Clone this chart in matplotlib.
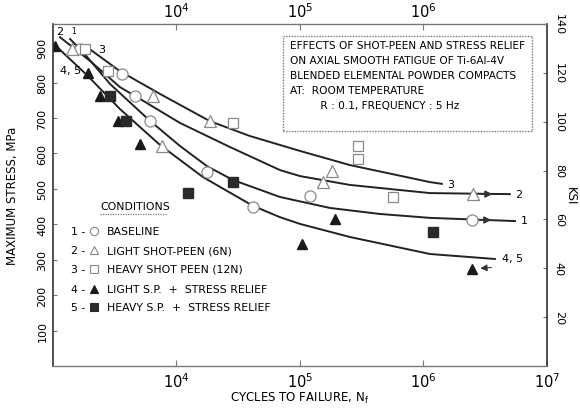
import matplotlib
matplotlib.use("Agg")
import matplotlib.pyplot as plt
from matplotlib.patches import Rectangle

plt.rcParams['font.family'] = ['DejaVu Sans']

# fitted curves (cycles, MPa)
c1_n = [1374, 1750, 2897, 6095, 10670, 17660, 28640, 68870, 175000, 444600, 1.13e6, 5.51e6]
c1_s = [923, 886, 796, 692, 621, 564, 525, 477, 446, 429, 418, 409]
c2_n = [1140, 1995, 3490, 4786, 10670, 27100, 68870, 100000, 254000, 1.13e6, 5.01e6]
c2_s = [928, 861, 787, 759, 686, 618, 553, 536, 511, 488, 485]
c3_n = [1884, 3490, 7345, 18660, 39360, 100000, 254000, 1.13e6, 1.41e6]
c3_s = [900, 832, 768, 691, 649, 607, 567, 519, 514]
c45_n = [1058, 1884, 3490, 7345, 16410, 41590, 68870, 100000, 254000, 1.13e6, 3.79e6]
c45_s = [903, 821, 725, 624, 533, 452, 420, 401, 364, 316, 302]

# test points
base_n = [1650, 3600, 4600, 6100, 17700, 41600, 120000, 2.47e6]
base_s = [895, 824, 762, 692, 547, 449, 480, 412]
light_n = [1425, 6450, 7640, 18700, 153000, 182000, 2.52e6]
light_s = [895, 762, 621, 691, 519, 550, 485]
heavy_n = [1815, 2790, 28600, 295000, 295000, 566000]
heavy_s = [895, 832, 686, 621, 584, 477]
lsr_n = [1040, 1920, 2400, 3360, 5060, 104000, 192000, 2.47e6]
lsr_s = [903, 827, 762, 691, 626, 344, 415, 274]
hsr_n = [2900, 3900, 12400, 28600, 1.19e6]
hsr_s = [762, 691, 488, 519, 378]

ksi_ticks = [20, 40, 60, 80, 100, 120, 140]
mpa_ticks = [100, 200, 300, 400, 500, 600, 700, 800, 900]

fig = plt.figure(figsize=(5.8, 4.1), dpi=100)
ax = fig.add_axes([0.0914, 0.105, 0.8516, 0.834])
ax.set_xscale('log')
ax.set_xlim(1e3, 1e7)
ax.set_ylim(0, 140 * 6.895)

lw = 1.4
ax.plot(c1_n, c1_s, color='#222222', lw=lw)
ax.plot(c2_n, c2_s, color='#222222', lw=lw)
ax.plot(c3_n, c3_s, color='#222222', lw=lw)
ax.plot(c45_n, c45_s, color='#222222', lw=lw)

oe = '#8a8a8a'
ax.plot(base_n, base_s, 'o', ms=8, mfc='white', mec=oe, mew=0.9, ls='none')
ax.plot(light_n, light_s, '^', ms=8.5, mfc='white', mec=oe, mew=0.9, ls='none')
ax.plot(heavy_n, heavy_s, 's', ms=7, mfc='white', mec=oe, mew=0.9, ls='none')
ax.plot(lsr_n, lsr_s, '^', ms=7, color='#1a1a1a', ls='none')
ax.plot(hsr_n, hsr_s, 's', ms=6.5, color='#2a2a2a', ls='none')

# runout arrows
ax.annotate('', xy=(base_n[-1], base_s[-1]), xytext=(14, 0), textcoords='offset points',
            arrowprops=dict(arrowstyle='<|-', color='#333333', lw=1.2, shrinkA=0, shrinkB=6))
ax.annotate('', xy=(light_n[-1], light_s[-1]), xytext=(14, 0), textcoords='offset points',
            arrowprops=dict(arrowstyle='<|-', color='#333333', lw=1.2, shrinkA=0, shrinkB=6))
ax.annotate('', xy=(lsr_n[-1], lsr_s[-1]), xytext=(14, 1), textcoords='offset points',
            arrowprops=dict(arrowstyle='-|>', color='#333333', lw=0.8, shrinkA=0, shrinkB=6))

# curve labels
fs = 8
ax.annotate('3', xy=(c3_n[-1], c3_s[-1]), xytext=(4, 0), textcoords='offset points', va='center', fontsize=fs)
ax.annotate('2', xy=(c2_n[-1], c2_s[-1]), xytext=(4, 0), textcoords='offset points', va='center', fontsize=fs)
ax.annotate('1', xy=(c1_n[-1], c1_s[-1]), xytext=(4, 1), textcoords='offset points', va='center', fontsize=fs)
ax.annotate('4, 5', xy=(c45_n[-1], c45_s[-1]), xytext=(5, 1), textcoords='offset points', va='center', fontsize=fs)
ax.annotate('2', xy=(c2_n[0], c2_s[0]), xytext=(-3, 1), textcoords='offset points', va='bottom', fontsize=fs)
ax.annotate('1', xy=(c1_n[0], c1_s[0]), xytext=(1, 3), textcoords='offset points', va='bottom', fontsize=5.5)
ax.annotate('3', xy=(c3_n[0], c3_s[0]), xytext=(8, -1), textcoords='offset points', va='center', fontsize=fs)
ax.annotate('4, 5', xy=(c45_n[0], c45_s[0]), xytext=(3, -17), textcoords='offset points', va='center', fontsize=fs)

# axes styling
for side in ['left', 'right']:
    ax.spines[side].set_color('#333333')
    ax.spines[side].set_linewidth(1.2)
for side in ['top', 'bottom']:
    ax.spines[side].set_color('#777777')
    ax.spines[side].set_linestyle((0, (1, 1)))
    ax.spines[side].set_linewidth(1.0)

ax.set_xticks([1e4, 1e5, 1e6, 1e7])
ax.set_xticklabels([r'$\mathregular{10^4}$', r'$\mathregular{10^5}$', r'$\mathregular{10^6}$', r'$\mathregular{10^7}$'])
ax.xaxis.set_minor_locator(matplotlib.ticker.NullLocator())
ax.tick_params(axis='x', direction='in', length=4, labelsize=10.5, pad=4, color='#777777')
ax.set_yticks(mpa_ticks)
ax.set_yticklabels([str(v) for v in mpa_ticks], rotation=90, va='center')
ax.tick_params(axis='y', direction='in', length=3, labelsize=8, pad=4, color='#777777')

top = ax.secondary_xaxis('top')
top.set_xticks([1e4, 1e5, 1e6])
top.set_xticklabels([r'$\mathregular{10^4}$', r'$\mathregular{10^5}$', r'$\mathregular{10^6}$'])
top.xaxis.set_minor_locator(matplotlib.ticker.NullLocator())
top.tick_params(direction='in', length=4, labelsize=10.5, pad=3, color='#777777')
top.spines['top'].set_visible(False)

right = ax.secondary_yaxis('right', functions=(lambda m: m / 6.895, lambda k: k * 6.895))
right.set_yticks(ksi_ticks)
right.set_yticklabels([str(v) for v in ksi_ticks], rotation=-90, va='center')
right.tick_params(direction='in', length=3, labelsize=8, pad=5, color='#777777')
right.spines['right'].set_visible(False)
right.set_ylabel('KSI', rotation=-90, fontsize=8.5, labelpad=9)

ax.set_xlabel(r'CYCLES TO FAILURE, N$_\mathregular{f}$', fontsize=8.5, labelpad=0)
ax.set_ylabel('MAXIMUM STRESS, MPa', fontsize=8.5, labelpad=13)

# title box
ax.add_patch(Rectangle((0.466, 0.687), 0.504, 0.278, transform=ax.transAxes, fill=False,
                       ec='#777777', lw=1.0, ls=(0, (1, 1))))
ax.text(0.479, 0.952,
        'EFFECTS OF SHOT-PEEN AND STRESS RELIEF\n'
        'ON AXIAL SMOOTH FATIGUE OF Ti-6Al-4V\n'
        'BLENDED ELEMENTAL POWDER COMPACTS\n'
        'AT:  ROOM TEMPERATURE\n'
        '         R : 0.1, FREQUENCY : 5 Hz',
        transform=ax.transAxes, va='top', ha='left', fontsize=7.6, linespacing=1.6)

# conditions key
ax.text(0.095, 0.468, 'CONDITIONS', transform=ax.transAxes, fontsize=7.8, va='center')
ax.plot([0.095, 0.228], [0.445, 0.445], transform=ax.transAxes, color='#777777', lw=0.9, ls=(0, (1, 1)))
keys = [('1', 'o', 'white', 'BASELINE'),
        ('2', '^', 'white', 'LIGHT SHOT-PEEN (6N)'),
        ('3', 's', 'white', 'HEAVY SHOT PEEN (12N)'),
        ('4', '^', '#1a1a1a', 'LIGHT S.P.  +  STRESS RELIEF'),
        ('5', 's', '#2a2a2a', 'HEAVY S.P.  +  STRESS RELIEF')]
rows = [0.395, 0.339, 0.284, 0.225, 0.172]
for (num, mk, fc, lab), yy in zip(keys, rows):
    ax.text(0.036, yy, num + ' -', transform=ax.transAxes, fontsize=7.8, va='center')
    ax.plot([0.082], [yy], mk, transform=ax.transAxes, ms=6, mfc=fc,
            mec=oe if fc == 'white' else fc, mew=0.8)
    ax.text(0.109, yy, lab, transform=ax.transAxes, fontsize=7.8, va='center')

fig.savefig('out.png', dpi=100)
